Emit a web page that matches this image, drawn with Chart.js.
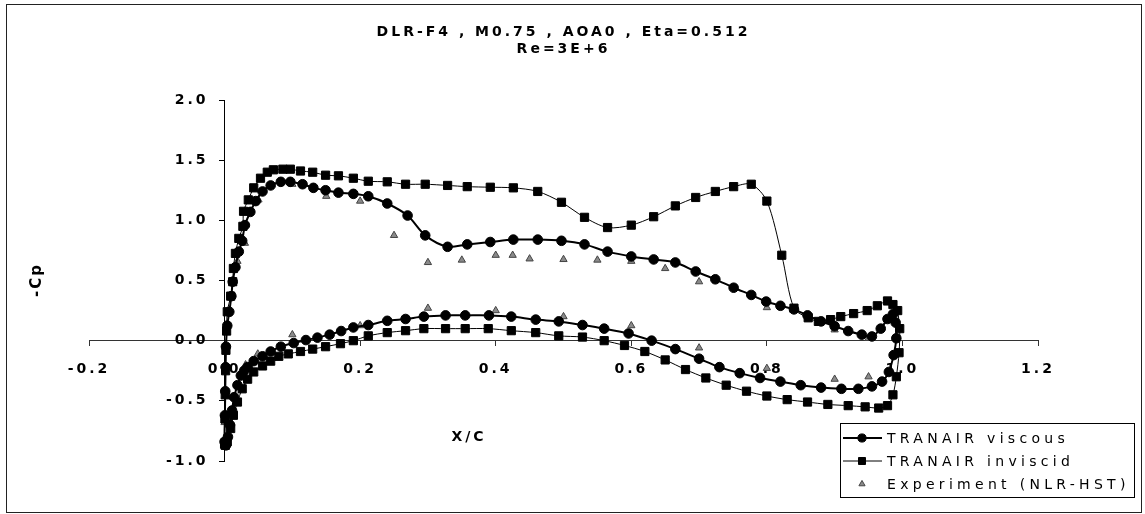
<!DOCTYPE html>
<html><head><meta charset="utf-8">
<script src="https://cdn.jsdelivr.net/npm/chart.js@4.4.1/dist/chart.umd.min.js"></script>
<style>html,body{margin:0;padding:0;background:#fff}canvas{display:block}</style>
</head><body>
<canvas id="c" width="1145" height="514"></canvas>
<script>
// ---- text ----
const titleLines = ['DLR-F4 , M0.75 , AOA0 , Eta=0.512', 'Re=3E+6'];
const xAxisTitle = 'X/C';
const yAxisTitle = '-Cp';
const seriesNames = ['TRANAIR viscous', 'TRANAIR inviscid', 'Experiment (NLR-HST)'];
const xTickRange = [-0.2, 1.2, 0.2];
const yTickRange = [-1.0, 2.0, 0.5];

// ---- TRANAIR viscous ----
const viscUpperX = [0.000,0.0005,0.001,0.0015,0.002,0.004,0.007,0.010,0.012,0.016,
  0.021,0.026,0.030,0.038,0.046,0.056,0.068,0.083,0.097,0.115,
  0.131,0.149,0.168,0.190,0.212,0.240,0.270,0.296,0.329,0.358,
  0.392,0.426,0.462,0.497,0.531,0.565,0.600,0.633,0.665,0.695,
  0.724,0.751,0.777,0.799,0.820,0.840,0.860,0.880,0.900,0.920,
  0.940,0.955,0.968,0.978,0.986];
const viscUpperY = [-0.84,-0.62,-0.42,-0.22,-0.05,0.125,0.24,0.37,0.49,0.61,
  0.74,0.83,0.96,1.07,1.16,1.24,1.29,1.32,1.32,1.30,
  1.27,1.25,1.23,1.22,1.20,1.14,1.04,0.875,0.78,0.80,
  0.82,0.84,0.84,0.83,0.80,0.74,0.70,0.675,0.65,0.575,
  0.51,0.44,0.38,0.325,0.29,0.26,0.21,0.16,0.12,0.08,
  0.05,0.035,0.10,0.18,0.22];
const viscLowerX = [0.002,0.005,0.008,0.011,0.014,0.019,0.024,0.029,0.034,0.043,
  0.056,0.068,0.083,0.102,0.120,0.137,0.155,0.172,0.190,0.212,
  0.240,0.267,0.294,0.326,0.355,0.390,0.423,0.459,0.493,0.528,
  0.560,0.596,0.630,0.665,0.700,0.730,0.760,0.790,0.820,0.850,
  0.880,0.910,0.935,0.955,0.970,0.980,0.987,0.991,0.990];
const viscLowerY = [-0.87,-0.80,-0.70,-0.58,-0.47,-0.37,-0.29,-0.25,-0.22,-0.17,
  -0.13,-0.09,-0.05,-0.02,0.005,0.025,0.05,0.08,0.11,0.13,
  0.165,0.18,0.20,0.21,0.21,0.21,0.20,0.175,0.16,0.13,
  0.10,0.06,0.00,-0.07,-0.15,-0.22,-0.27,-0.31,-0.34,-0.37,
  -0.39,-0.40,-0.40,-0.38,-0.34,-0.26,-0.12,0.02,0.15];

// ---- TRANAIR inviscid ----
const invUpperX = [0.000,0.0005,0.001,0.0015,0.002,0.003,0.004,0.009,0.012,0.013,
  0.016,0.021,0.027,0.028,0.035,0.043,0.053,0.063,0.072,0.086,
  0.097,0.112,0.130,0.149,0.168,0.190,0.212,0.240,0.267,0.296,
  0.329,0.358,0.392,0.426,0.462,0.497,0.531,0.565,0.600,0.633,
  0.665,0.695,0.724,0.751,0.777,0.800,0.822,0.840,0.861,0.876,
  0.894,0.909,0.928,0.948,0.963,0.978,0.986];
const invUpperY = [-0.86,-0.65,-0.45,-0.25,-0.08,0.08,0.24,0.37,0.49,0.60,
  0.725,0.85,0.95,1.075,1.17,1.27,1.35,1.40,1.42,1.425,
  1.425,1.41,1.40,1.375,1.37,1.35,1.325,1.32,1.30,1.30,
  1.29,1.28,1.275,1.27,1.24,1.15,1.025,0.94,0.96,1.03,
  1.12,1.19,1.24,1.28,1.30,1.16,0.71,0.27,0.19,0.16,
  0.175,0.20,0.225,0.25,0.29,0.33,0.30];
const invLowerX = [0.001,0.004,0.009,0.013,0.019,0.026,0.034,0.043,0.056,0.068,
  0.080,0.094,0.112,0.130,0.149,0.171,0.190,0.212,0.240,0.267,
  0.294,0.326,0.355,0.389,0.423,0.459,0.493,0.528,0.560,0.590,
  0.620,0.650,0.680,0.710,0.740,0.770,0.800,0.830,0.860,0.890,
  0.920,0.945,0.965,0.978,0.986,0.991,0.995,0.996,0.993];
const invLowerY = [-0.87,-0.84,-0.73,-0.62,-0.51,-0.40,-0.32,-0.26,-0.21,-0.17,
  -0.13,-0.11,-0.09,-0.07,-0.05,-0.025,0.00,0.04,0.067,0.083,
  0.10,0.10,0.10,0.10,0.083,0.067,0.04,0.03,0.00,-0.04,
  -0.09,-0.16,-0.24,-0.31,-0.37,-0.42,-0.46,-0.49,-0.51,-0.53,
  -0.54,-0.55,-0.56,-0.54,-0.45,-0.30,-0.10,0.10,0.25];

// ---- Experiment (NLR-HST) ----
const expUpperX = [0.003,0.019,0.030,0.050,0.100,0.150,0.200,0.250,0.300,0.350,0.400,0.425,0.450,0.500,0.550,0.600,0.650,0.700,0.800,0.900,0.950];
const expUpperY = [0.12,0.66,0.81,1.17,1.30,1.20,1.16,0.875,0.65,0.67,0.71,0.71,0.68,0.675,0.67,0.66,0.60,0.49,0.275,0.09,0.02];
const expLowerX = [0.000,0.013,0.031,0.049,0.100,0.200,0.300,0.400,0.500,0.600,0.700,0.800,0.900,0.950];
const expLowerY = [-0.68,-0.47,-0.20,-0.11,0.05,0.125,0.27,0.25,0.20,0.125,-0.06,-0.23,-0.32,-0.30];

function pts(xs, ys) { return xs.map((x, i) => ({x: x, y: ys[i]})); }
function loop(lx, ly, ux, uy) { return pts(lx, ly).reverse().concat(pts(ux, uy)); }

const FAMILY = "'DejaVu Sans', sans-serif";
const LS = '3px';
const LS_LEGEND = '4.3px';
const Y_LABEL_SHIFT = -16;

const frameAndText = {
  id: 'frameAndText',
  beforeUpdate(c) { c.ctx.letterSpacing = LS; },
  beforeLayout(c) { c.ctx.letterSpacing = LS; },
  afterLayout(c) {
    const s = c.scales.y;
    if (s && !s._shifted) {
      const orig = s.drawLabels.bind(s);
      s.drawLabels = function (area) {
        const ctx = c.ctx;
        ctx.save();
        ctx.translate(Y_LABEL_SHIFT, 0);
        orig(area);
        ctx.restore();
      };
      s._shifted = true;
    }
  },
  beforeDraw(c) {
    const ctx = c.ctx;
    ctx.save();
    ctx.fillStyle = '#fff';
    ctx.fillRect(0, 0, c.width, c.height);
    ctx.strokeStyle = '#222';
    ctx.lineWidth = 1;
    ctx.strokeRect(6.5, 4.5, 1135, 508);
    ctx.restore();
    ctx.letterSpacing = LS;
  },
  afterDraw(c) {
    const ctx = c.ctx;
    ctx.save();
    // axis titles
    ctx.fillStyle = '#000';
    ctx.textAlign = 'center';
    ctx.textBaseline = 'middle';
    ctx.font = 'bold 14px ' + FAMILY;
    ctx.letterSpacing = LS;
    ctx.fillText(xAxisTitle, 469, 437);
    ctx.save();
    ctx.translate(37, 280);
    ctx.rotate(-Math.PI / 2);
    ctx.letterSpacing = '2px';
    ctx.font = 'bold 15px ' + FAMILY;
    ctx.fillText(yAxisTitle, 0, 0);
    ctx.restore();
    // legend
    ctx.letterSpacing = '0px';
    ctx.fillStyle = '#fff';
    ctx.fillRect(840, 423, 295, 74);
    ctx.strokeStyle = '#000';
    ctx.lineWidth = 1;
    ctx.strokeRect(840.5, 423.5, 294, 74);
    const rows = [438, 461, 484];
    c.data.datasets.forEach((ds, i) => {
      const y = rows[i];
      if (ds.showLine) {
        ctx.strokeStyle = ds.borderColor;
        ctx.lineWidth = ds.borderWidth;
        ctx.beginPath(); ctx.moveTo(843, y); ctx.lineTo(882, y); ctx.stroke();
      }
      ctx.fillStyle = ds.pointBackgroundColor;
      ctx.strokeStyle = ds.pointBorderColor;
      ctx.lineWidth = 1;
      Chart.helpers.drawPoint(ctx, {pointStyle: ds.pointStyle, radius: ds.pointRadius * 0.85, rotation: 0, borderWidth: 1}, 862, y);
      ctx.fillStyle = '#000';
      ctx.textAlign = 'left';
      ctx.textBaseline = 'middle';
      ctx.font = '14px ' + FAMILY;
      ctx.letterSpacing = LS_LEGEND;
      ctx.fillText(ds.label, 887, y + 1);
      ctx.letterSpacing = '0px';
    });
    ctx.restore();
  }
};

const fmt = v => (Math.abs(v) < 1e-9 ? 0 : v).toFixed(1);

new Chart(document.getElementById('c'), {
  type: 'scatter',
  data: {
    datasets: [
      {
        label: seriesNames[0],
        data: loop(viscLowerX, viscLowerY, viscUpperX, viscUpperY),
        showLine: true, tension: 0.3,
        borderColor: '#000', borderWidth: 2,
        pointStyle: 'circle', pointRadius: 4.8,
        pointBackgroundColor: '#000', pointBorderColor: '#000', pointBorderWidth: 1
      },
      {
        label: seriesNames[1],
        data: loop(invLowerX, invLowerY, invUpperX, invUpperY),
        showLine: true, tension: 0.3,
        borderColor: '#000', borderWidth: 1,
        pointStyle: 'rect', pointRadius: 5.8,
        pointBackgroundColor: '#000', pointBorderColor: '#000', pointBorderWidth: 1
      },
      {
        label: seriesNames[2],
        data: pts(expUpperX, expUpperY).concat(pts(expLowerX, expLowerY)),
        showLine: false,
        pointStyle: 'triangle', pointRadius: 4.2,
        pointBackgroundColor: '#8a8a8a', pointBorderColor: '#444', pointBorderWidth: 1
      }
    ]
  },
  options: {
    responsive: false,
    animation: false,
    devicePixelRatio: 1,
    events: [],
    layout: { padding: { left: 89, right: 107, top: 0, bottom: 53 } },
    plugins: {
      legend: { display: false },
      tooltip: { enabled: false },
      title: {
        display: true,
        text: titleLines,
        color: '#000',
        font: { family: FAMILY, size: 14, weight: 'bold', lineHeight: 1.2143 },
        padding: { top: 24, bottom: 42 }
      }
    },
    scales: {
      x: {
        type: 'linear',
        position: { y: 0 },
        min: xTickRange[0], max: xTickRange[1],
        ticks: { stepSize: xTickRange[2], callback: fmt, color: '#000', padding: 15,
                 font: { family: FAMILY, size: 14, weight: 'bold' }, maxRotation: 0, autoSkip: false },
        grid: { drawOnChartArea: false, drawTicks: true, tickLength: 5, color: '#333' },
        border: { display: true, color: '#333', width: 1 }
      },
      y: {
        type: 'linear',
        position: { x: 0 },
        min: yTickRange[0], max: yTickRange[1],
        ticks: { stepSize: yTickRange[2], callback: fmt, color: '#000', padding: 8,
                 font: { family: FAMILY, size: 14, weight: 'bold' } },
        grid: { drawOnChartArea: false, drawTicks: true, tickLength: 5, color: '#000' },
        border: { display: true, color: '#000', width: 1 }
      }
    }
  },
  plugins: [frameAndText]
});
</script>
</body></html>
